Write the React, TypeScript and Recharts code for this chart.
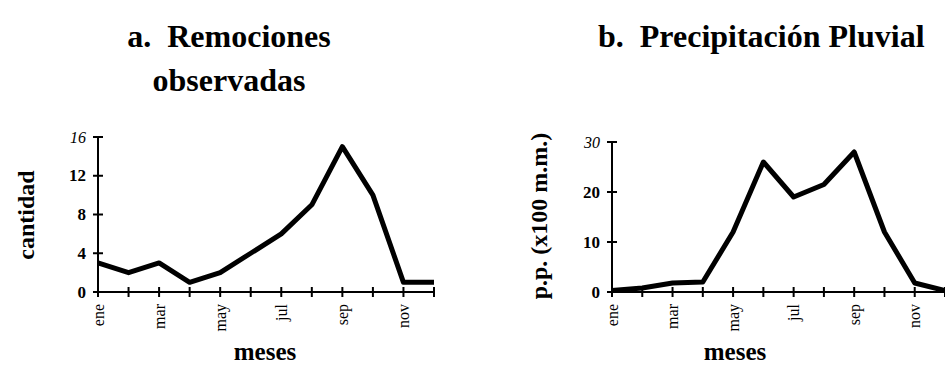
import React from 'react';
import { LineChart, Line, XAxis, YAxis } from 'recharts';

const months = ['ene', 'feb', 'mar', 'abr', 'may', 'jun', 'jul', 'ago', 'sep', 'oct', 'nov', 'dic'];
const remociones = [3, 2, 3, 1, 2, 4, 6, 9, 15, 10, 1, 1];
const precipitacion = [0.3, 0.8, 1.8, 2, 12, 26, 19, 21.5, 28, 12, 1.8, 0.3];
const ticksA = [0, 4, 8, 12, 16];
const ticksB = [0, 10, 20, 30];

const dataA = months.map((m, i) => ({ mes: m, v: remociones[i] }));
const dataB = months.map((m, i) => ({ mes: m, v: precipitacion[i] }));

const serif = '"Liberation Serif", "DejaVu Serif", serif';

const MonthTick = (props: any) => {
  const { x, y, index, payload } = props;
  return (
    <g>
      <line x1={x} x2={x} y1={y - 5} y2={y + 5} stroke="#000" strokeWidth={2} />
      {index % 2 === 0 && (
        <text
          x={x}
          y={y + 12}
          transform={`rotate(-90 ${x} ${y + 12})`}
          textAnchor="end"
          dominantBaseline="central"
          fontFamily={serif}
          fontSize={16}
          fill="#000"
        >
          {payload.value}
        </text>
      )}
    </g>
  );
};

const makeValueTick = (top: number) => (props: any) => {
  const { x, y, payload } = props;
  const italic = payload.value === top;
  return (
    <g>
      <line x1={x - 5} x2={x + 5} y1={y} y2={y} stroke="#000" strokeWidth={2} />
      <text
        x={x - 12}
        y={y}
        textAnchor="end"
        dominantBaseline="central"
        fontFamily={serif}
        fontSize={italic ? 16 : 17}
        fontStyle={italic ? 'italic' : 'normal'}
        fontWeight={italic ? 'normal' : 'bold'}
        fill="#000"
      >
        {payload.value}
      </text>
    </g>
  );
};

const textStyle: React.CSSProperties = {
  position: 'absolute',
  fontFamily: serif,
  fontWeight: 'bold',
  color: '#000',
  whiteSpace: 'pre',
};

export default function App() {
  return (
    <div style={{ position: 'absolute', left: 0, top: 0, width: 945, height: 380, background: '#fff', overflow: 'hidden' }}>
      <div style={{ ...textStyle, left: 0, width: 458, top: 14, fontSize: 32, textAlign: 'center', lineHeight: '44px' }}>
        {'a.  Remociones'}
        <br />
        {'observadas'}
      </div>
      <div style={{ ...textStyle, left: 598, top: 14, fontSize: 32, lineHeight: '44px' }}>{'b.  Precipitación Pluvial'}</div>

      <div style={{ ...textStyle, left: 26, top: 215, fontSize: 24, transform: 'translate(-50%, -50%) rotate(-90deg)' }}>
        cantidad
      </div>
      <div style={{ ...textStyle, left: 539, top: 216, fontSize: 24, transform: 'translate(-50%, -50%) rotate(-90deg)' }}>
        p.p. (x100 m.m.)
      </div>
      <div style={{ ...textStyle, left: 265, top: 352, fontSize: 25, transform: 'translate(-50%, -50%)' }}>meses</div>
      <div style={{ ...textStyle, left: 735, top: 352, fontSize: 25, transform: 'translate(-50%, -50%)' }}>meses</div>

      <div style={{ position: 'absolute', left: 0, top: 0 }}>
        <LineChart width={460} height={380} data={dataA} margin={{ top: 137, right: 26, bottom: 48, left: 68 }}>
          <XAxis
            dataKey="mes"
            interval={0}
            tickSize={0}
            tickMargin={0}
            height={40}
            axisLine={{ stroke: '#000', strokeWidth: 2 }}
            tickLine={false}
            tick={<MonthTick />}
          />
          <YAxis
            domain={[0, 16]}
            ticks={ticksA}
            width={30}
            tickSize={0}
            tickMargin={0}
            axisLine={{ stroke: '#000', strokeWidth: 2 }}
            tickLine={false}
            tick={makeValueTick(16)}
          />
          <Line dataKey="v" stroke="#000" strokeWidth={5} dot={false} isAnimationActive={false} strokeLinejoin="round" />
        </LineChart>
      </div>

      <div style={{ position: 'absolute', left: 470, top: 0 }}>
        <LineChart width={475} height={380} data={dataB} margin={{ top: 142, right: 0, bottom: 48, left: 112 }}>
          <XAxis
            dataKey="mes"
            interval={0}
            tickSize={0}
            tickMargin={0}
            height={40}
            axisLine={{ stroke: '#000', strokeWidth: 2 }}
            tickLine={false}
            tick={<MonthTick />}
          />
          <YAxis
            domain={[0, 30]}
            ticks={ticksB}
            width={30}
            tickSize={0}
            tickMargin={0}
            axisLine={{ stroke: '#000', strokeWidth: 2 }}
            tickLine={false}
            tick={makeValueTick(30)}
          />
          <Line dataKey="v" stroke="#000" strokeWidth={5} dot={false} isAnimationActive={false} strokeLinejoin="round" />
        </LineChart>
      </div>
    </div>
  );
}
